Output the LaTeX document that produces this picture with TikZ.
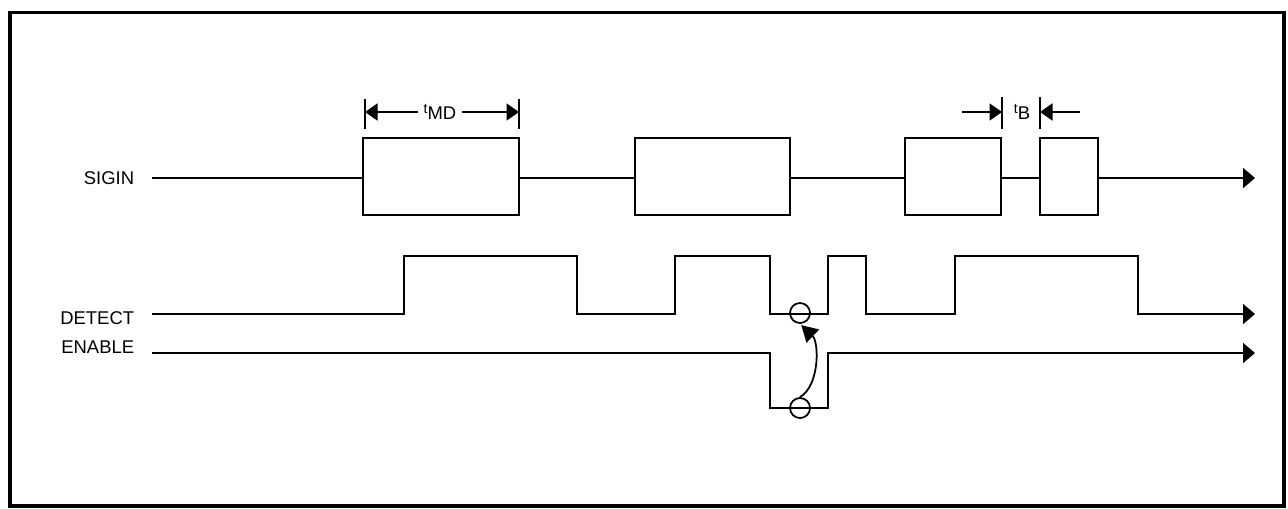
\documentclass[tikz,border=0pt]{standalone}
\usepackage{fontspec}
\setmainfont{Liberation Sans}
\usetikzlibrary{arrows.meta}

\tikzset{
	sigline/.style={line width=1.1pt},
	endarrow/.style={-{Triangle[length=2.4mm, width=4mm]}},
	dimarrow/.style={-{Triangle[length=2.5mm, width=3.4mm]}},
	bendarrow/.style={-{Triangle[length=3.2mm, width=3.6mm]}, shorten >=1pt},
	siglabel/.style={font=\fontsize{10.5}{12}\selectfont, anchor=east, inner sep=0},
	dimlabel/.style={font=\fontsize{10.5}{12}\selectfont, inner sep=2.5pt},
	mark circle/.style={circle, draw, line width=1pt, inner sep=0, minimum size=0.4cm}
}

\begin{document}
\begin{tikzpicture}[x=0.02cm, y=-0.02cm, line width=1pt]
	\useasboundingbox (0, 0) rectangle (1288, 508);
	% Frame:
	\draw[line width=2pt] (10, 12.5) rectangle (1284, 506);
	% Labels:
	\node[siglabel] (sigin) at (135, 178) {SIGIN};
	\node[siglabel] (detect) at (135, 318) {DETECT};
	\node[siglabel] (enable) at (135, 347) {ENABLE};
	% SIGIN:
	\draw[sigline] (152, 178) -- (363, 178);
	\draw[sigline] (363, 138) rectangle (519, 215);
	\draw[sigline] (519, 178) -- (635, 178);
	\draw[sigline] (635, 138) rectangle (790, 215);
	\draw[sigline] (790, 178) -- (905, 178);
	\draw[sigline] (905, 138) rectangle (1001, 215);
	\draw[sigline] (1001, 178) -- (1040, 178);
	\draw[sigline] (1040, 138) rectangle (1098, 215);
	\draw[sigline, endarrow] (1098, 178) -- (1255, 178);
	% DETECT:
	\draw[sigline, endarrow] (152, 314) -- (404, 314) -- (404, 256) -- (577, 256) -- (577, 314)
		-- (675, 314) -- (675, 256) -- (770, 256) -- (770, 314) -- (828, 314) -- (828, 256)
		-- (866, 256) -- (866, 314) -- (955, 314) -- (955, 256) -- (1138, 256) -- (1138, 314)
		-- (1255, 314);
	% ENABLE:
	\draw[sigline, endarrow] (152, 353) -- (770, 353) -- (770, 408) -- (828, 408) -- (828, 353)
		-- (1255, 353);
	% Circles and bent arrow:
	\node[mark circle] (dlow) at (800, 313) {};
	\node[mark circle] (elow) at (800, 408) {};
	\draw[bendarrow] (elow.north) .. controls (820, 385) and (819, 342) .. (dlow.south);
	% t_MD:
	\node[dimlabel] (tmd) at (440, 112) {\raisebox{3pt}{\footnotesize t}MD};
	\coordinate (tmdL) at (365, 112);
	\coordinate (tmdR) at (519, 112);
	\draw (tmdL) ++(0, -13) -- ++(0, 30);
	\draw (tmdR) ++(0, -13) -- ++(0, 30);
	\draw[dimarrow] (tmd.west) -- (tmdL);
	\draw[dimarrow] (tmd.east) -- (tmdR);
	% t_B:
	\node[dimlabel] (tb) at (1022, 112) {\raisebox{3pt}{\footnotesize t}B};
	\coordinate (tbL) at (1002, 112);
	\coordinate (tbR) at (1040, 112);
	\coordinate (tbLs) at (962, 112);
	\coordinate (tbRs) at (1080, 112);
	\draw (tbL) ++(0, -15) -- ++(0, 32);
	\draw (tbR) ++(0, -15) -- ++(0, 32);
	\draw[dimarrow] (tbLs) -- (tbL);
	\draw[dimarrow] (tbRs) -- (tbR);
\end{tikzpicture}
\end{document}
